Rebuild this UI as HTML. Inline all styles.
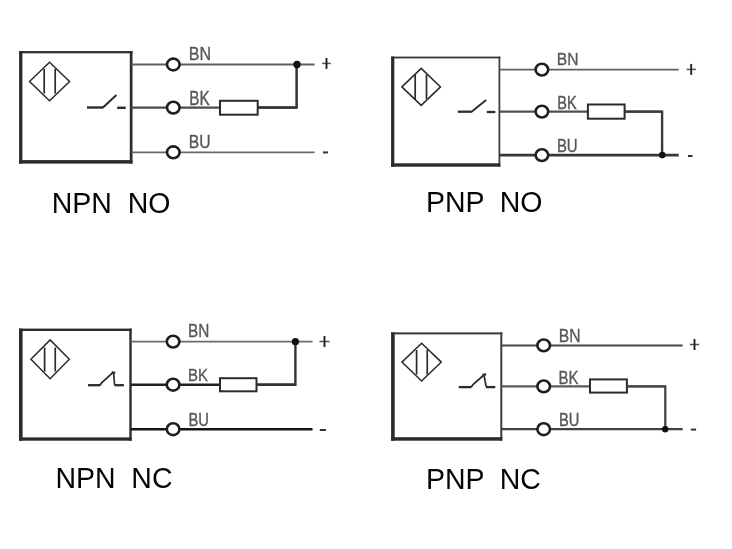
<!DOCTYPE html>
<html><head><meta charset="utf-8"><style>
html,body{margin:0;padding:0;background:#fff;width:732px;height:549px;overflow:hidden}
svg{display:block;will-change:transform;font-family:"Liberation Sans",sans-serif}
</style></head><body>
<svg width="732" height="549" viewBox="0 0 732 549">
<rect width="732" height="549" fill="#fff"/>
<rect x="19.1" y="51.1" width="113.4" height="2.2" fill="#2b2b2b"/>
<rect x="129.8" y="51.1" width="2.7" height="112.5" fill="#2b2b2b"/>
<rect x="19.1" y="51.1" width="3.3" height="112.5" fill="#2b2b2b"/>
<rect x="19.1" y="160.1" width="113.4" height="3.5" fill="#2b2b2b"/>
<path d="M29.5,81.45 L49.55,62.2 L69.6,81.45 L49.55,100.7 Z" fill="none" stroke="#2b2b2b" stroke-width="1.5"/>
<path d="M44.2,69.1 V93.4 M55.2,69.1 V93.4" stroke="#2b2b2b" stroke-width="1.7"/>
<path d="M87,107.5 H103.3" fill="none" stroke="#2b2b2b" stroke-width="2.4" stroke-linejoin="round"/>
<path d="M103,107.5 L116.4,95.1" fill="none" stroke="#2b2b2b" stroke-width="2.0" stroke-linejoin="round"/>
<path d="M117.2,107.8 H125.7" fill="none" stroke="#2b2b2b" stroke-width="2.4" stroke-linejoin="round"/>
<path d="M131.5,64.5 H314.5" stroke="#5f5f5f" stroke-width="1.8"/>
<path d="M131.5,107.6 H296.6" stroke="#4b4b4b" stroke-width="2.3"/>
<path d="M131.5,152.3 H314.5" stroke="#686868" stroke-width="1.8"/>
<ellipse cx="173.3" cy="64.5" rx="6.3" ry="5.9" fill="#fff" stroke="#1e1e1e" stroke-width="2.6"/>
<ellipse cx="173.3" cy="107.6" rx="6.3" ry="5.9" fill="#fff" stroke="#1e1e1e" stroke-width="2.6"/>
<ellipse cx="173.3" cy="152.3" rx="6.3" ry="5.9" fill="#fff" stroke="#1e1e1e" stroke-width="2.6"/>
<rect x="220" y="100.8" width="37.7" height="13.9" fill="#fff" stroke="#2b2b2b" stroke-width="2"/>
<path d="M257.7,107.6 H296.6 V64.5" fill="none" stroke="#333" stroke-width="2.5"/>
<circle cx="297" cy="64.5" r="3.7" fill="#111"/>
<path d="M322.2,63.4 H330.8" stroke="#555" stroke-width="1.5"/>
<path d="M326.5,57.9 V68.9" stroke="#222" stroke-width="1.9"/>
<path d="M323,152.4 H328" stroke="#333" stroke-width="2"/>
<text transform="translate(188.82,60.2) scale(0.1602,0.1841)" x="0" y="0" font-size="100" fill="#575757" stroke="#575757" stroke-width="1.87">BN</text>
<text transform="translate(189.28,104.5) scale(0.1524,0.2029)" x="0" y="0" font-size="100" fill="#575757" stroke="#575757" stroke-width="1.97">BK</text>
<text transform="translate(188.84,148.02) scale(0.1569,0.1814)" x="0" y="0" font-size="100" fill="#575757" stroke="#575757" stroke-width="1.91">BU</text>
<text transform="translate(51.7,212.6) scale(0.285,0.2995)" x="0" y="0" font-size="100" fill="#050505" xml:space="preserve">NPN  NO</text>
<rect x="391.1" y="56.6" width="109.2" height="1.8" fill="#363636"/>
<rect x="498.5" y="56.6" width="1.8" height="110.1" fill="#404040"/>
<rect x="391.1" y="56.6" width="3.2" height="110.1" fill="#2b2b2b"/>
<rect x="391.1" y="163.3" width="109.2" height="3.4" fill="#2b2b2b"/>
<path d="M401.9,86.9 L421.2,68.4 L440.5,86.9 L421.2,105.4 Z" fill="none" stroke="#2b2b2b" stroke-width="1.5"/>
<path d="M415.2,74.6 V98.9 M426.5,74.6 V98.9" stroke="#2b2b2b" stroke-width="1.7"/>
<path d="M457.7,111.7 H471.9" fill="none" stroke="#2b2b2b" stroke-width="2.3" stroke-linejoin="round"/>
<path d="M471.6,111.7 L486.1,99.9" fill="none" stroke="#2b2b2b" stroke-width="1.9" stroke-linejoin="round"/>
<path d="M486.8,112 H495.3" fill="none" stroke="#2b2b2b" stroke-width="2.3" stroke-linejoin="round"/>
<path d="M499.3,69.6 H678.7" stroke="#616161" stroke-width="1.8"/>
<path d="M499.3,111.6 H662.1" stroke="#4f4f4f" stroke-width="2.3"/>
<path d="M499.3,155.1 H678.7" stroke="#373737" stroke-width="2.6"/>
<ellipse cx="541.9" cy="69.6" rx="6.3" ry="5.9" fill="#fff" stroke="#1e1e1e" stroke-width="2.6"/>
<ellipse cx="541.9" cy="111.6" rx="6.3" ry="5.9" fill="#fff" stroke="#1e1e1e" stroke-width="2.6"/>
<ellipse cx="541.9" cy="155.1" rx="6.3" ry="5.9" fill="#fff" stroke="#1e1e1e" stroke-width="2.6"/>
<rect x="587.9" y="104.5" width="36.7" height="14.2" fill="#fff" stroke="#2b2b2b" stroke-width="2"/>
<path d="M624.6,111.6 H662.1 V155.1" fill="none" stroke="#3a3a3a" stroke-width="2.4"/>
<circle cx="662.3" cy="155.1" r="3.3" fill="#111"/>
<path d="M686.5,69.4 H695.9" stroke="#555" stroke-width="1.5"/>
<path d="M691.2,63.9 V74.9" stroke="#222" stroke-width="1.9"/>
<path d="M688,156 H692.5" stroke="#333" stroke-width="2"/>
<text transform="translate(556.85,65.4) scale(0.1561,0.1725)" x="0" y="0" font-size="100" fill="#575757" stroke="#575757" stroke-width="1.92">BN</text>
<text transform="translate(557.34,108.6) scale(0.1452,0.1913)" x="0" y="0" font-size="100" fill="#575757" stroke="#575757" stroke-width="2.07">BK</text>
<text transform="translate(556.9,152.22) scale(0.1496,0.1814)" x="0" y="0" font-size="100" fill="#575757" stroke="#575757" stroke-width="2.01">BU</text>
<text transform="translate(425.9,211.8) scale(0.285,0.2995)" x="0" y="0" font-size="100" fill="#050505" xml:space="preserve">PNP  NO</text>
<rect x="19" y="328.6" width="112.7" height="2.4" fill="#2b2b2b"/>
<rect x="129.3" y="328.6" width="2.4" height="112.1" fill="#2b2b2b"/>
<rect x="19" y="328.6" width="3.6" height="112.1" fill="#2b2b2b"/>
<rect x="19" y="437.4" width="112.7" height="3.3" fill="#2b2b2b"/>
<path d="M30.9,359.3 L50.1,339.9 L69.3,359.3 L50.1,378.7 Z" fill="none" stroke="#2b2b2b" stroke-width="1.5"/>
<path d="M44.6,347.5 V371.4 M55.25,347.5 V371.4" stroke="#2b2b2b" stroke-width="1.7"/>
<path d="M88,385.2 H100.3" fill="none" stroke="#2b2b2b" stroke-width="2.3" stroke-linejoin="round"/>
<path d="M100.1,385.2 L101.8,382.6 L112.6,372.8" fill="none" stroke="#2b2b2b" stroke-width="1.8" stroke-linejoin="round"/>
<path d="M111.7,372.4 L115.3,372.8" fill="none" stroke="#2b2b2b" stroke-width="2.2" stroke-linejoin="round"/>
<path d="M113.6,373.2 L114.6,385" fill="none" stroke="#2b2b2b" stroke-width="1.7" stroke-linejoin="round"/>
<path d="M114.3,385.2 H123.9" fill="none" stroke="#2b2b2b" stroke-width="2.3" stroke-linejoin="round"/>
<path d="M130.7,341.6 H312.5" stroke="#6b6b6b" stroke-width="1.8"/>
<path d="M130.7,384.7 H295.4" stroke="#222" stroke-width="2.5"/>
<path d="M130.7,429.2 H312.5" stroke="#141414" stroke-width="2.6"/>
<ellipse cx="173.1" cy="341.6" rx="6.3" ry="5.9" fill="#fff" stroke="#1e1e1e" stroke-width="2.6"/>
<ellipse cx="173.1" cy="384.7" rx="6.3" ry="5.9" fill="#fff" stroke="#1e1e1e" stroke-width="2.6"/>
<ellipse cx="173.1" cy="429.2" rx="6.3" ry="5.9" fill="#fff" stroke="#1e1e1e" stroke-width="2.6"/>
<rect x="220" y="378.2" width="36.5" height="13.1" fill="#fff" stroke="#2b2b2b" stroke-width="2"/>
<path d="M256.5,384.7 H295.4 V341.6" fill="none" stroke="#333" stroke-width="2.4"/>
<circle cx="295.4" cy="341.7" r="3.6" fill="#111"/>
<path d="M319.4,341.5 H329.6" stroke="#555" stroke-width="1.5"/>
<path d="M324.5,336 V347" stroke="#222" stroke-width="1.9"/>
<path d="M319.8,430 H325.9" stroke="#333" stroke-width="2"/>
<text transform="translate(188.07,337.4) scale(0.1537,0.1783)" x="0" y="0" font-size="100" fill="#575757" stroke="#575757" stroke-width="1.95">BN</text>
<text transform="translate(188.11,381.2) scale(0.1492,0.1725)" x="0" y="0" font-size="100" fill="#575757" stroke="#575757" stroke-width="2.01">BK</text>
<text transform="translate(188.52,426.31) scale(0.1472,0.1871)" x="0" y="0" font-size="100" fill="#575757" stroke="#575757" stroke-width="2.04">BU</text>
<text transform="translate(55.4,487.6) scale(0.285,0.2995)" x="0" y="0" font-size="100" fill="#050505" xml:space="preserve">NPN  NC</text>
<rect x="391.1" y="332.4" width="111.2" height="2" fill="#383838"/>
<rect x="500.3" y="332.4" width="2" height="108.3" fill="#3a3a3a"/>
<rect x="391.1" y="332.4" width="3.6" height="108.3" fill="#2b2b2b"/>
<rect x="391.1" y="437.2" width="111.2" height="3.5" fill="#2b2b2b"/>
<path d="M401.9,362.1 L421.6,343.2 L441.3,362.1 L421.6,381 Z" fill="none" stroke="#2b2b2b" stroke-width="1.5"/>
<path d="M416.6,350.1 V374.4 M427.25,350.1 V374.4" stroke="#2b2b2b" stroke-width="1.7"/>
<path d="M458.7,387.1 H471.5" fill="none" stroke="#2b2b2b" stroke-width="2.3" stroke-linejoin="round"/>
<path d="M471.3,387 L473,384.6 L483.3,375.5" fill="none" stroke="#2b2b2b" stroke-width="1.8" stroke-linejoin="round"/>
<path d="M482.5,374.8 L486.2,374.4" fill="none" stroke="#2b2b2b" stroke-width="2.2" stroke-linejoin="round"/>
<path d="M484,375.5 L486.2,386.8" fill="none" stroke="#2b2b2b" stroke-width="1.7" stroke-linejoin="round"/>
<path d="M486,387.1 H495.3" fill="none" stroke="#2b2b2b" stroke-width="2.3" stroke-linejoin="round"/>
<path d="M501.3,345.4 H682.6" stroke="#464646" stroke-width="2.0"/>
<path d="M501.3,386.4 H665.3" stroke="#5b5b5b" stroke-width="2.1"/>
<path d="M501.3,429.2 H682.6" stroke="#404040" stroke-width="2.3"/>
<ellipse cx="543.7" cy="345.4" rx="6.3" ry="5.9" fill="#fff" stroke="#1e1e1e" stroke-width="2.6"/>
<ellipse cx="543.7" cy="386.4" rx="6.3" ry="5.9" fill="#fff" stroke="#1e1e1e" stroke-width="2.6"/>
<ellipse cx="543.7" cy="429.2" rx="6.3" ry="5.9" fill="#fff" stroke="#1e1e1e" stroke-width="2.6"/>
<rect x="590" y="379.4" width="36.9" height="13.2" fill="#fff" stroke="#2b2b2b" stroke-width="2"/>
<path d="M626.9,386.4 H665.3 V429.2" fill="none" stroke="#474747" stroke-width="2.3"/>
<circle cx="665.2" cy="429.2" r="3.2" fill="#111"/>
<path d="M689.8,344.5 H699.2" stroke="#555" stroke-width="1.5"/>
<path d="M694.5,339 V350" stroke="#222" stroke-width="1.9"/>
<path d="M690.8,429.6 H696.1" stroke="#333" stroke-width="2"/>
<text transform="translate(558.84,341.5) scale(0.1569,0.1783)" x="0" y="0" font-size="100" fill="#575757" stroke="#575757" stroke-width="1.91">BN</text>
<text transform="translate(558.51,383.7) scale(0.1492,0.1855)" x="0" y="0" font-size="100" fill="#575757" stroke="#575757" stroke-width="2.01">BK</text>
<text transform="translate(558.92,425.92) scale(0.1472,0.1814)" x="0" y="0" font-size="100" fill="#575757" stroke="#575757" stroke-width="2.04">BU</text>
<text transform="translate(425.9,488.6) scale(0.285,0.2995)" x="0" y="0" font-size="100" fill="#050505" xml:space="preserve">PNP  NC</text>
</svg>
</body></html>
